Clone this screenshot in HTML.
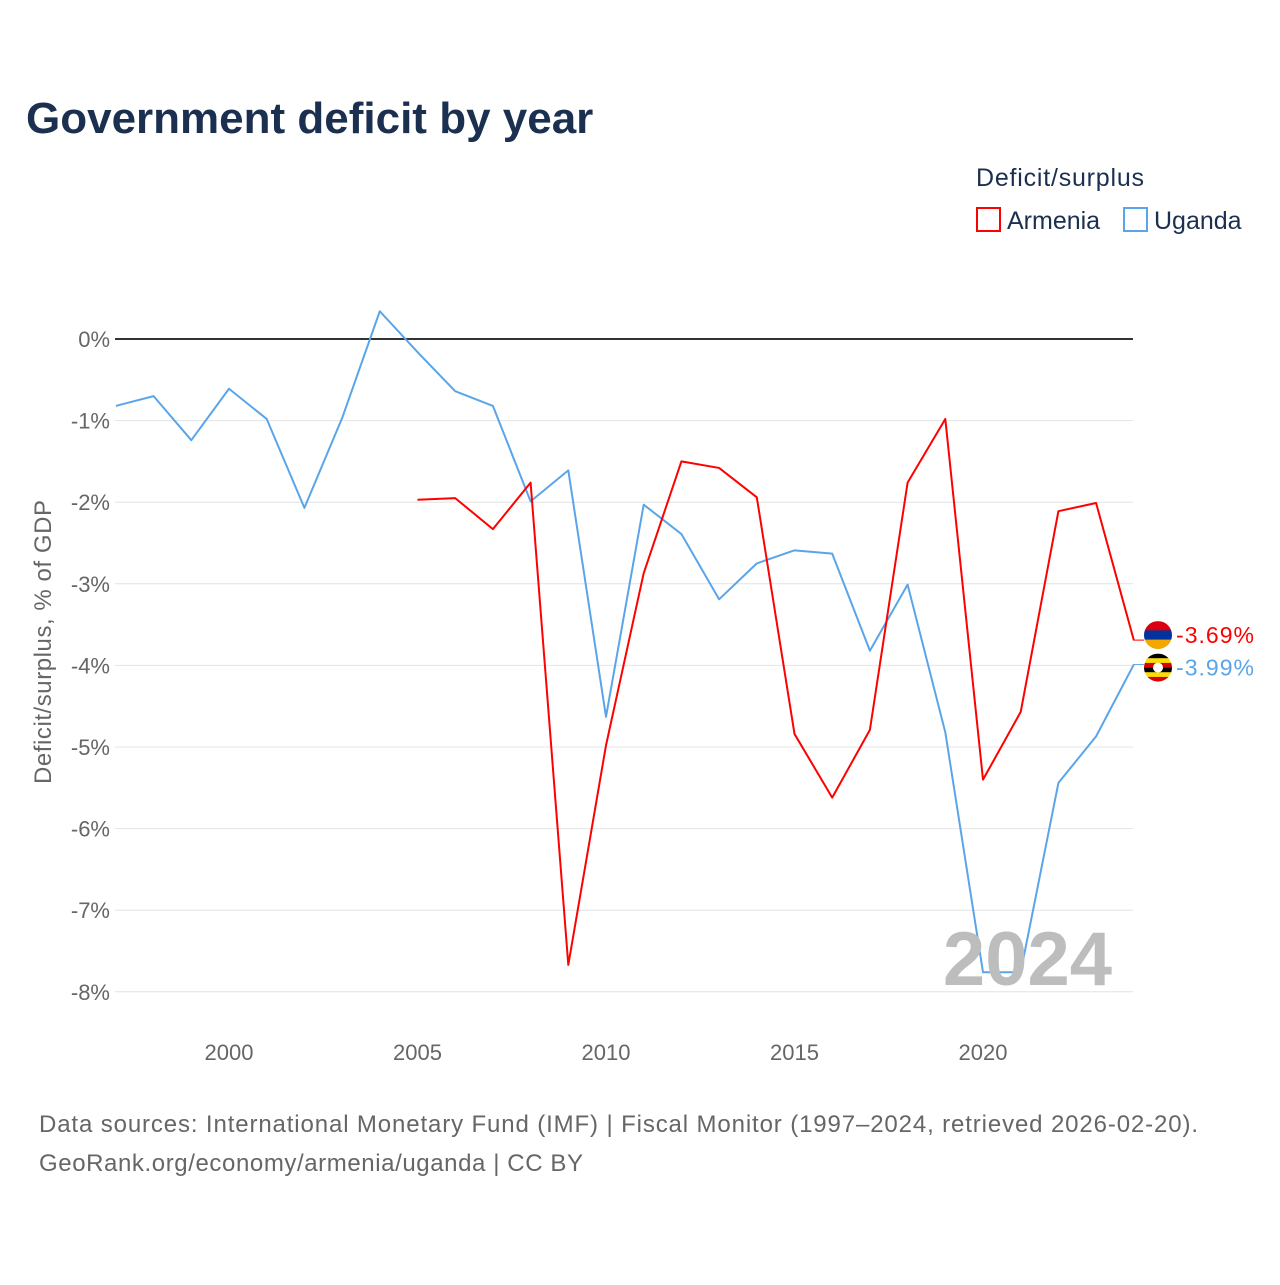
<!DOCTYPE html>
<html><head><meta charset="utf-8">
<style>
body{margin:0;background:#fff;font-family:"Liberation Sans",sans-serif;}
svg text{font-family:"Liberation Sans",sans-serif;}
</style></head>
<body>
<svg id="chart" width="1280" height="1280" xmlns="http://www.w3.org/2000/svg">
<text x="26" y="133" font-size="44" font-weight="bold" fill="#1b3050">Government deficit by year</text>
<text x="976" y="186" font-size="25" fill="#1b3050" textLength="168">Deficit/surplus</text>
<g>
<rect x="977" y="208" width="23" height="23" fill="none" stroke="#ff0000" stroke-width="2"/>
<text x="1007" y="229" font-size="25" fill="#1b3050">Armenia</text></g>
<g>
<rect x="1124" y="208" width="23" height="23" fill="none" stroke="#5aa5ea" stroke-width="2"/>
<text x="1154" y="229" font-size="25" fill="#1b3050">Uganda</text></g>
<g id="grid"></g>
<g id="series"></g>
<text x="1112" y="985" font-size="76" font-weight="bold" fill="#bdbdbd" text-anchor="end">2024</text>
<text transform="translate(51,642) rotate(-90)" font-size="24" fill="#666" text-anchor="middle" textLength="284">Deficit/surplus, % of GDP</text>
<text x="39" y="1132" font-size="24" fill="#666" textLength="1159">Data sources: International Monetary Fund (IMF) | Fiscal Monitor (1997–2024, retrieved 2026-02-20).</text>
<text x="39" y="1171" font-size="24" fill="#666" textLength="544">GeoRank.org/economy/armenia/uganda | CC BY</text>
</svg>
<script>
const years=[1997,1998,1999,2000,2001,2002,2003,2004,2005,2006,2007,2008,2009,2010,2011,2012,2013,2014,2015,2016,2017,2018,2019,2020,2021,2022,2023,2024];
const uganda=[-0.82,-0.70,-1.24,-0.61,-0.98,-2.07,-0.97,0.34,-0.16,-0.64,-0.82,-1.99,-1.61,-4.63,-2.03,-2.39,-3.19,-2.75,-2.59,-2.63,-3.82,-3.01,-4.82,-7.76,-7.76,-5.44,-4.87,-3.99];
const armenia=[null,null,null,null,null,null,null,null,-1.97,-1.95,-2.33,-1.76,-7.67,-4.98,-2.87,-1.50,-1.58,-1.94,-4.84,-5.62,-4.79,-1.76,-0.98,-5.40,-4.57,-2.11,-2.01,-3.69];
const yTicks=[0,-1,-2,-3,-4,-5,-6,-7,-8];
const xTicks=[2000,2005,2010,2015,2020];
const NS="http://www.w3.org/2000/svg";
const X=y=>115.9+(y-1997)*37.7;
const Y=v=>339-v*81.6;
const grid=document.getElementById('grid'),ser=document.getElementById('series');
function mk(t,a,p){const e=document.createElementNS(NS,t);for(const k in a)e.setAttribute(k,a[k]);p.appendChild(e);return e;}
yTicks.forEach(v=>{
 const l=mk('line',{x1:115,x2:1133,y1:Y(v),y2:Y(v),stroke:v===0?'#333':'#e4e4e4','stroke-width':v===0?2:1},grid);
 
 
 const t=mk('text',{x:110,y:Y(v)+8,'font-size':22,fill:'#666','text-anchor':'end'},grid);
 t.textContent=v+'%';
 
 
});
xTicks.forEach(y=>{
 const t=mk('text',{x:X(y),y:1060,'font-size':22,fill:'#666','text-anchor':'middle'},grid);
 t.textContent=y;
 
 
});
function line(vals,color,name){
 let d='';let pen=false;
 vals.forEach((v,i)=>{if(v===null){pen=false;return;}d+=(pen?'L':'M')+X(years[i])+' '+Y(v)+' ';pen=true;});
 const p=mk('path',{d:d,fill:'none',stroke:color,'stroke-width':2,'stroke-linejoin':'round'},ser);
 
 
}
line(uganda,'#5aa5ea','uganda-line');
line(armenia,'#ff0000','armenia-line');
const aV=armenia[armenia.length-1],uV=uganda[uganda.length-1];
const fa=mk('g',{},ser);


const cy=Y(aV)-5;
const ca=mk('clipPath',{id:'ca'},fa);mk('circle',{cx:1158,cy:cy,r:14},ca);
const ga=mk('g',{'clip-path':'url(#ca)'},fa);
mk('rect',{x:1144,y:cy-14,width:28,height:10,fill:'#d90012'},ga);
mk('rect',{x:1144,y:cy-4.7,width:28,height:9.4,fill:'#0033a0'},ga);
mk('rect',{x:1144,y:cy+4.7,width:28,height:10,fill:'#f2a800'},ga);
mk('line',{x1:1133,x2:1144,y1:Y(aV),y2:Y(aV),stroke:'#ff0000','stroke-width':1},fa);
const fu=mk('g',{},ser);


const cu=Y(uV)+3;
const cp=mk('clipPath',{id:'cu'},fu);mk('circle',{cx:1158,cy:cu,r:14},cp);
const gu=mk('g',{'clip-path':'url(#cu)'},fu);
['#000','#fcdc04','#d90000','#000','#fcdc04','#d90000'].forEach((c,i)=>mk('rect',{x:1144,y:cu-14+i*4.67,width:28,height:4.8,fill:c},gu));
mk('circle',{cx:1158,cy:cu,r:5,fill:'#fff'},gu);
mk('line',{x1:1133,x2:1144,y1:Y(uV),y2:Y(uV),stroke:'#5aa5ea','stroke-width':1},fu);
const ta=mk('text',{x:1176,y:cy+8,'font-size':23,fill:'#ff0000',textLength:78},ser);
ta.textContent=aV.toFixed(2)+'%';


const tu=mk('text',{x:1176,y:cu+8,'font-size':23,fill:'#5aa5ea',textLength:78},ser);
tu.textContent=uV.toFixed(2)+'%';


</script>
</body></html>
